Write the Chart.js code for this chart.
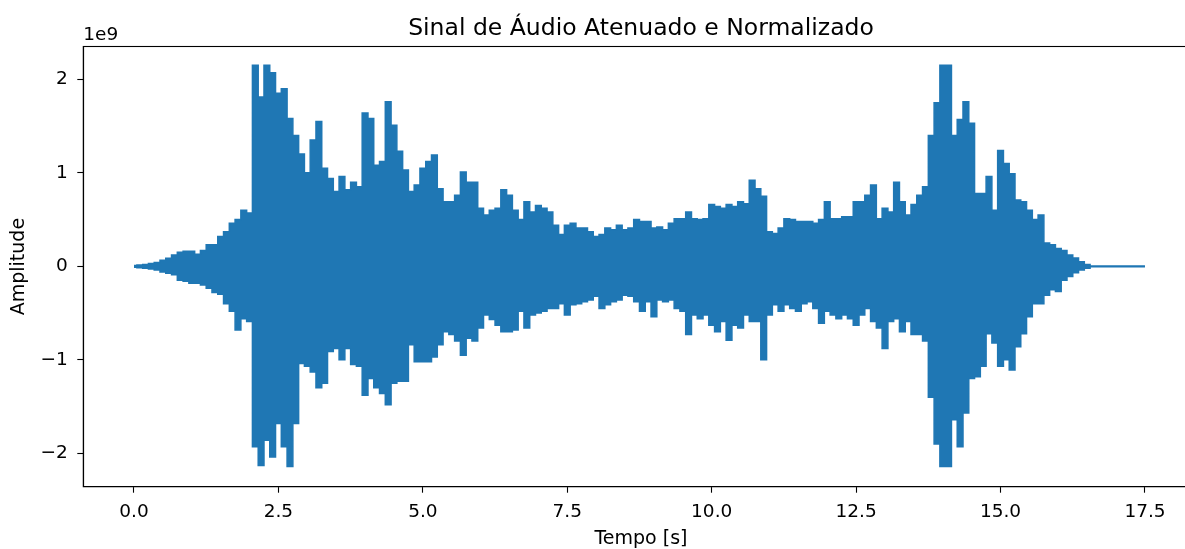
<!DOCTYPE html>
<html lang="pt">
<head>
    <meta charset="UTF-8">
    <title>Sinal de Áudio Atenuado e Normalizado</title>
    <script src="https://cdn.jsdelivr.net/npm/chart.js"></script>
    <style>
        html, body { margin: 0; padding: 0; background: #fff; overflow: hidden; }
    </style>
</head>
<body>
    <canvas id="grafico" width="1200" height="549"></canvas>
<script>
    var passo = 0.1;
    var envelopeSup = [
        0.01, 0.015, 0.02, 0.03, 0.04, 0.064, 0.085, 0.12, 0.15, 0.16,
        0.16, 0.13, 0.17, 0.23, 0.23, 0.32, 0.37, 0.46, 0.50, 0.60,
        0.57, 2.15, 1.81, 2.15, 2.07, 1.85, 1.90, 1.58, 1.40, 1.20,
        1.00, 1.35, 1.55, 1.05, 0.94, 0.80, 0.96, 0.82, 0.90, 0.85,
        1.64, 1.58, 1.08, 1.12, 1.76, 1.51, 1.23, 1.03, 0.80, 0.87,
        1.05, 1.12, 1.19, 0.83, 0.69, 0.69, 0.76, 1.01, 0.90, 0.90,
        0.62, 0.55, 0.60, 0.62, 0.82, 0.76, 0.60, 0.50, 0.69, 0.58,
        0.65, 0.62, 0.58, 0.44, 0.34, 0.44, 0.46, 0.41, 0.41, 0.37,
        0.32, 0.34, 0.41, 0.39, 0.44, 0.39, 0.41, 0.50, 0.48, 0.48,
        0.41, 0.42, 0.39, 0.46, 0.51, 0.51, 0.58, 0.51, 0.50, 0.51,
        0.66, 0.64, 0.62, 0.66, 0.64, 0.69, 0.67, 0.92, 0.83, 0.75,
        0.37, 0.35, 0.41, 0.51, 0.50, 0.48, 0.48, 0.48, 0.46, 0.50,
        0.69, 0.51, 0.51, 0.53, 0.53, 0.69, 0.69, 0.76, 0.87, 0.51,
        0.62, 0.58, 0.90, 0.69, 0.55, 0.66, 0.76, 0.85, 1.40, 1.75,
        2.15, 2.15, 1.40, 1.57, 1.76, 1.53, 0.78, 0.78, 0.96, 0.60,
        1.24, 1.10, 0.99, 0.71, 0.69, 0.60, 0.50, 0.55, 0.25, 0.23,
        0.19, 0.17, 0.12, 0.09, 0.05, 0.02, 0.004, 0.004, 0.004, 0.004,
        0.004, 0.004, 0.004, 0.004, 0.004, 0.004
    ];
    var envelopeInf = [
        -0.01, -0.015, -0.02, -0.03, -0.04, -0.06, -0.075, -0.09, -0.15, -0.16,
        -0.18, -0.18, -0.20, -0.235, -0.28, -0.30, -0.40, -0.48, -0.68, -0.56,
        -0.59, -1.93, -2.13, -1.86, -2.04, -1.68, -1.93, -2.14, -1.68, -1.04,
        -1.07, -1.13, -1.30, -1.25, -0.91, -0.88, -1.00, -0.88, -1.05, -1.07,
        -1.38, -1.20, -1.30, -1.36, -1.48, -1.25, -1.23, -1.23, -0.84, -1.02,
        -1.02, -1.02, -0.97, -0.84, -0.70, -0.73, -0.80, -0.95, -0.77, -0.80,
        -0.66, -0.52, -0.57, -0.63, -0.70, -0.70, -0.68, -0.48, -0.66, -0.52,
        -0.50, -0.48, -0.45, -0.45, -0.40, -0.52, -0.41, -0.40, -0.38, -0.36,
        -0.32, -0.45, -0.41, -0.38, -0.36, -0.31, -0.32, -0.38, -0.48, -0.38,
        -0.54, -0.36, -0.38, -0.36, -0.45, -0.48, -0.73, -0.52, -0.56, -0.52,
        -0.63, -0.70, -0.59, -0.79, -0.63, -0.66, -0.52, -0.59, -0.59, -1.00,
        -0.52, -0.41, -0.48, -0.41, -0.45, -0.48, -0.40, -0.38, -0.45, -0.61,
        -0.48, -0.52, -0.56, -0.52, -0.56, -0.63, -0.52, -0.45, -0.59, -0.66,
        -0.88, -0.59, -0.56, -0.70, -0.59, -0.73, -0.73, -0.80, -1.40, -1.90,
        -2.14, -2.14, -1.64, -1.93, -1.57, -1.20, -1.18, -1.07, -0.72, -0.82,
        -1.07, -1.00, -1.11, -0.86, -0.72, -0.54, -0.40, -0.40, -0.31, -0.25,
        -0.27, -0.15, -0.11, -0.07, -0.04, -0.02, -0.004, -0.004, -0.004, -0.004,
        -0.004, -0.004, -0.004, -0.004, -0.004, -0.004
    ];
    var escala = 1e9;

    // ticks dos eixos
    var ticksX = [0, 2.5, 5, 7.5, 10, 12.5, 15, 17.5];
    var ticksY = [-2, -1, 0, 1, 2];

    var titulo = 'Sinal de Áudio Atenuado e Normalizado';
    var rotuloX = 'Tempo [s]';
    var rotuloY = 'Amplitude';
    var azul = '#1f77b4';
    var fonte = "'DejaVu Sans', sans-serif";

    function pontos(lista) {
        return lista.map(function (v, i) {
            return { x: +(i * passo).toFixed(1), y: v * escala };
        });
    }

    // titulo, rotulos, "1e9" e moldura do estilo matplotlib
    var textos = {
        id: 'textos',
        afterDraw: function (chart) {
            var ctx = chart.ctx;
            var a = chart.chartArea;
            ctx.save();
            ctx.strokeStyle = '#000';
            ctx.lineWidth = 1.1;
            ctx.strokeRect(a.left, a.top, a.right - a.left, a.bottom - a.top);

            ctx.fillStyle = '#000';
            ctx.textAlign = 'center';
            ctx.textBaseline = 'alphabetic';
            ctx.font = '23.5px ' + fonte;
            ctx.fillText(titulo, (a.left + a.right) / 2, 35);

            ctx.font = '19px ' + fonte;
            ctx.fillText(rotuloX, (a.left + a.right) / 2, 544);

            ctx.font = '18.5px ' + fonte;
            ctx.textAlign = 'left';
            ctx.fillText('1e9', a.left, 40);

            ctx.font = '19px ' + fonte;
            ctx.translate(19, (a.top + a.bottom) / 2);
            ctx.rotate(-Math.PI / 2);
            ctx.textAlign = 'center';
            ctx.textBaseline = 'middle';
            ctx.fillText(rotuloY, 0, 0);
            ctx.restore();
        }
    };

    var ctx = document.getElementById('grafico').getContext('2d');
    var grafico = new Chart(ctx, {
        type: 'line',
        data: {
            datasets: [{
                data: pontos(envelopeSup),
                borderColor: azul,
                backgroundColor: azul,
                borderWidth: 1.5,
                pointRadius: 0,
                stepped: 'middle',
                fill: '+1'
            }, {
                data: pontos(envelopeInf),
                borderColor: azul,
                backgroundColor: azul,
                borderWidth: 1.5,
                pointRadius: 0,
                stepped: 'middle',
                fill: false
            }]
        },
        options: {
            responsive: false,
            animation: false,
            layout: { padding: { top: 46.5, right: 1.3, left: 0, bottom: 0 } },
            plugins: {
                legend: { display: false },
                tooltip: { enabled: false }
            },
            scales: {
                x: {
                    type: 'linear',
                    min: -0.8775,
                    max: 18.43,
                    afterFit: function (s) { s.height = 62.3; },
                    afterBuildTicks: function (s) {
                        s.ticks = ticksX.map(function (v) { return { value: v }; });
                    },
                    grid: { drawOnChartArea: false, tickLength: 6, tickColor: '#000', tickWidth: 1.1 },
                    border: { color: '#000', width: 1.1 },
                    ticks: {
                        color: '#000',
                        padding: 8,
                        maxRotation: 0,
                        font: { family: fonte, size: 18.5 },
                        callback: function (v) { return v.toFixed(1); }
                    }
                },
                y: {
                    type: 'linear',
                    min: -2.357 * escala,
                    max: 2.351 * escala,
                    afterFit: function (s) { s.width = 83.3; },
                    afterBuildTicks: function (s) {
                        s.ticks = ticksY.map(function (v) { return { value: v * escala }; });
                    },
                    grid: { drawOnChartArea: false, tickLength: 6, tickColor: '#000', tickWidth: 1.1 },
                    border: { color: '#000', width: 1.1 },
                    ticks: {
                        color: '#000',
                        padding: 9.5,
                        font: { family: fonte, size: 18.5 },
                        callback: function (v) {
                            var n = Math.round(v / escala);
                            return n < 0 ? '\u2212' + Math.abs(n) : String(n);
                        }
                    }
                }
            }
        },
        plugins: [textos]
    });
</script>
</body>
</html>
